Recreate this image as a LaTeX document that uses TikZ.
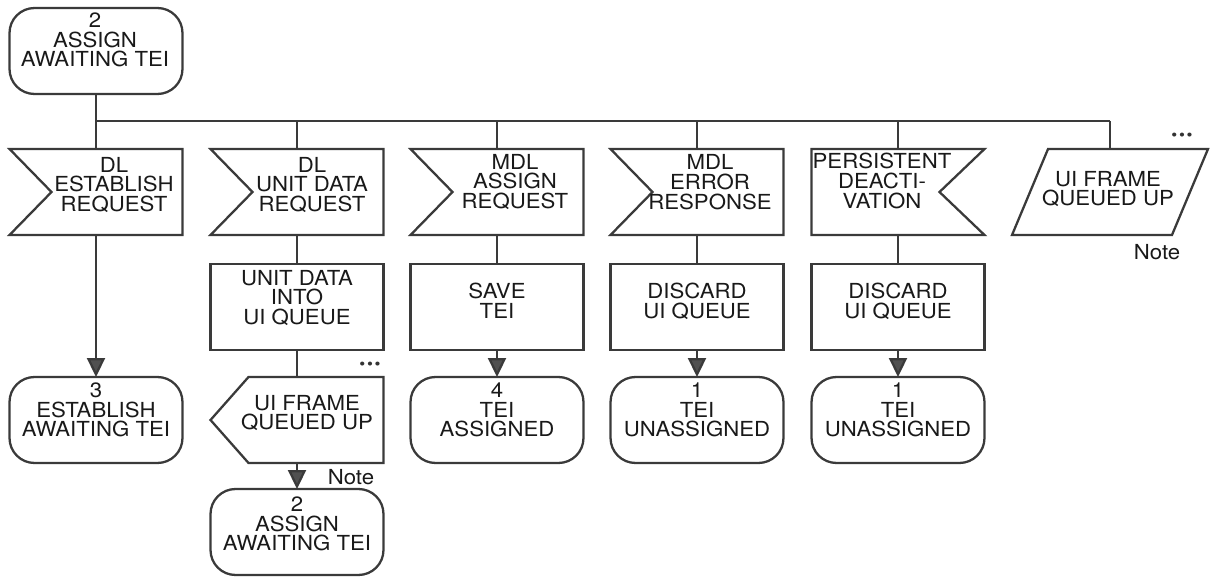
\documentclass[tikz,border=0pt]{standalone}
\usepackage{fontspec}
\setmainfont[FakeStretch=1.07]{TeX Gyre Heros}
\usetikzlibrary{arrows.meta,calc}
\definecolor{ink}{HTML}{3A3A3A}
\definecolor{tipgray}{HTML}{505050}
\tikzset{
  sym/.style={draw=ink, line width=1.3pt, line join=miter},
  symbox/.style={minimum width=3.46cm, minimum height=1.72cm, inner sep=0pt, outer sep=0pt},
  state/.style={symbox, sym, rounded corners=0.5cm},
  task/.style={symbox, sym},
  txt/.style={inner sep=0pt, align=center, text=black!90, font=\fontsize{11.8}{11.2}\selectfont},
  dots/.style={inner sep=0pt, text=black!80, font=\fontsize{9}{9}\selectfont},
  conn/.style={draw=ink, line width=1.3pt},
  arr/.style={conn, -{Triangle[width=0.36cm, length=0.38cm, fill=tipgray]}},
}
\begin{document}
\begin{tikzpicture}[x=0.02cm, y=-0.02cm]
  \useasboundingbox (0,0) rectangle (1216,577);

  % frames
  \node[state] (assign) at (96,51) {};
  \node[symbox] (estreq) at (96,192) {};
  \node[symbox] (udreq) at (297,192) {};
  \node[symbox] (asreq) at (497,192) {};
  \node[symbox] (errresp) at (697,192) {};
  \node[symbox] (deact) at (898,192) {};
  \node[symbox, minimum width=3.92cm] (uiframe) at (1110,192) {};
  \node[task] (udqueue) at (297,307) {};
  \node[task] (savetei) at (497,307) {};
  \node[task] (discA) at (697,307) {};
  \node[task] (discB) at (898,307) {};
  \node[state] (establish) at (96,420) {};
  \node[symbox] (queued) at (297,420) {};
  \node[state] (assigned) at (497,420) {};
  \node[state] (unassA) at (697,420) {};
  \node[state] (unassB) at (898,420) {};
  \node[state] (assignB) at (297,532) {};

  % symbol outlines
  \foreach \n in {estreq,udreq,asreq,errresp}
    \draw[sym] (\n.north west) -- (\n.north east) -- (\n.south east) -- (\n.south west) -- ($(\n.west)+(42,0)$) -- cycle;
  \draw[sym] (deact.north west) -- (deact.north east) -- ($(deact.east)-(45,0)$) -- (deact.south east) -- (deact.south west) -- cycle;
  \draw[sym] ($(uiframe.north west)+(36,0)$) -- (uiframe.north east) -- ($(uiframe.south east)-(36,0)$) -- (uiframe.south west) -- cycle;
  \draw[sym] ($(queued.north west)+(38,0)$) -- (queued.north east) -- (queued.south east) -- ($(queued.south west)+(38,0)$) -- (queued.west) -- cycle;

  % texts
  \node[txt] (assign-t) at (95,40) {2\\ASSIGN\\AWAITING TEI};
  \node[txt] (estreq-t) at (114,185) {DL\\ESTABLISH\\REQUEST};
  \node[txt] (udreq-t) at (312,185) {DL\\UNIT DATA\\REQUEST};
  \node[txt] (asreq-t) at (515,182) {MDL\\ASSIGN\\REQUEST};
  \node[txt] (errresp-t) at (710,182) {MDL\\ERROR\\RESPONSE};
  \node[txt] (deact-t) at (882,181) {PERSISTENT\\DEACTI-\\VATION};
  \node[txt] (uiframe-t) at (1108,189) {UI FRAME\\QUEUED UP};
  \node[txt] (udqueue-t) at (297,298) {UNIT DATA\\INTO\\UI QUEUE};
  \node[txt] (savetei-t) at (497,301) {SAVE\\TEI};
  \node[txt] (discA-t) at (697,301) {DISCARD\\UI QUEUE};
  \node[txt] (discB-t) at (898,301) {DISCARD\\UI QUEUE};
  \node[txt] (establish-t) at (96,410) {3\\ESTABLISH\\AWAITING TEI};
  \node[txt] (queued-t) at (307,413) {UI FRAME\\QUEUED UP};
  \node[txt] (assigned-t) at (497,410) {4\\TEI\\ASSIGNED};
  \node[txt] (unassA-t) at (697,410) {1\\TEI\\UNASSIGNED};
  \node[txt] (unassB-t) at (898,410) {1\\TEI\\UNASSIGNED};
  \node[txt] (assignB-t) at (297,524) {2\\ASSIGN\\AWAITING TEI};
  \node[txt] (note1) at (1157,252) {Note};
  \node[txt] (note2) at (351,477) {Note};
  \node[dots] (dots1) at (1182,137) {•\hspace{1pt}•\hspace{1pt}•};
  \node[dots] (dots2) at (370,366) {•\hspace{1pt}•\hspace{1pt}•};

  % connectors
  \coordinate (busL) at (96,121);
  \draw[conn] (assign.south) -- (estreq.north);
  \draw[conn] (busL) -- (busL -| uiframe.north);
  \foreach \n in {udreq,asreq,errresp,deact,uiframe}
    \draw[conn] (\n.north |- busL) -- (\n.north);
  \draw[conn] (udreq.south) -- (udqueue.north);
  \draw[conn] (asreq.south) -- (savetei.north);
  \draw[conn] (errresp.south) -- (discA.north);
  \draw[conn] (deact.south) -- (discB.north);
  \draw[conn] (udqueue.south) -- (queued.north);
  \draw[arr] (estreq.south) -- (establish.north);
  \draw[arr] (queued.south) -- (assignB.north);
  \draw[arr] (savetei.south) -- (assigned.north);
  \draw[arr] (discA.south) -- (unassA.north);
  \draw[arr] (discB.south) -- (unassB.north);
\end{tikzpicture}
\end{document}
